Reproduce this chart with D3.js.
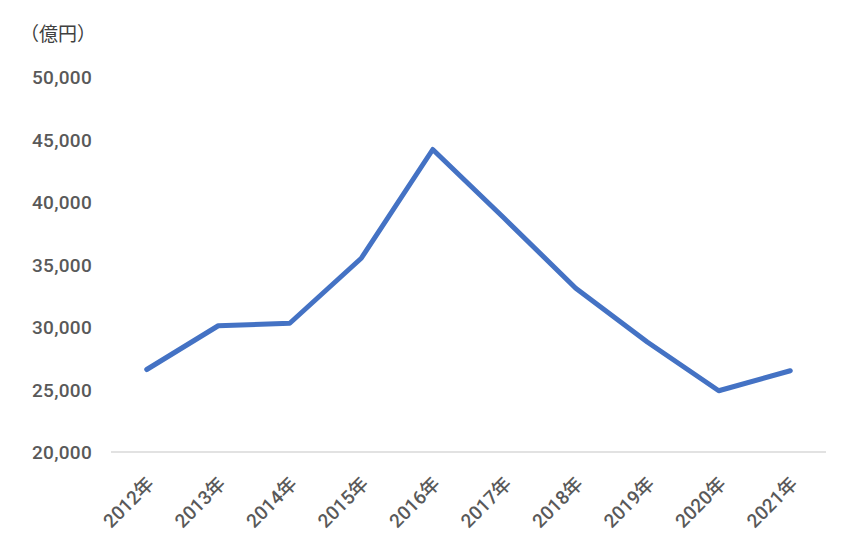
<!DOCTYPE html>
<html><head><meta charset="utf-8">
<script src="https://cdn.jsdelivr.net/npm/d3@7"></script>
<style>
html,body{margin:0;padding:0;background:#fff;}
svg{display:block;}
</style></head>
<body><svg id="c" width="868" height="554"></svg>
<script>
const categories = ["2012年","2013年","2014年","2015年","2016年","2017年","2018年","2019年","2020年","2021年"];
const values = [26600, 30100, 30300, 35500, 44200, 38700, 33100, 28800, 24900, 26500];
const yTicks = [20000, 25000, 30000, 35000, 40000, 45000, 50000];
const unitLabel = "（億円）";

(function () {
const svg = d3.select("#c");
const mLeft = 111, mRight = 826, mTop = 77, mBottom = 452;
const x = d3.scalePoint().domain(categories).range([mLeft, mRight]).padding(0.5);
const y = d3.scaleLinear().domain([20000, 50000]).range([mBottom, mTop]);
const fontNum = "Roboto, 'Noto Sans CJK JP', sans-serif";

// baseline
svg.append("line").attr("x1", mLeft).attr("x2", mRight).attr("y1", y(20000)).attr("y2", y(20000))
  .attr("stroke", "#d9d9d9").attr("stroke-width", 1.3);

// y axis
const yAxis = d3.axisLeft(y).tickValues(yTicks).tickSize(0).tickPadding(0).tickFormat(d3.format(","));
const gy = svg.append("g").attr("transform", `translate(92,0)`).call(yAxis);
gy.select(".domain").remove();
gy.selectAll("text").attr("font-family", fontNum).attr("font-size", 19).attr("font-weight", 500)
  .attr("letter-spacing", 0.3).attr("fill", "#595959").attr("dy", "0.36em");

// x axis
const xAxis = d3.axisBottom(x).tickSize(0);
const gx = svg.append("g").attr("transform", `translate(0,${mBottom})`).call(xAxis);
gx.select(".domain").remove();
gx.selectAll("text").attr("font-family", fontNum).attr("font-size", 19).attr("font-weight", 500)
  .attr("fill", "#595959").attr("text-anchor", "end").attr("dy", null).attr("y", null)
  .attr("transform", "translate(8,33) rotate(-45)");

// unit label
svg.append("text").attr("x", 20).attr("y", 41).text(unitLabel)
  .attr("font-family", "'Noto Sans CJK JP', sans-serif").attr("font-size", 19).attr("fill", "#404040");

// line
const line = d3.line().x((d, i) => x(categories[i])).y(d => y(d));
svg.append("path").datum(values).attr("d", line).attr("fill", "none")
  .attr("stroke", "#4472C4").attr("stroke-width", 5).attr("stroke-linejoin", "round").attr("stroke-linecap", "round");
})();
</script></body></html>
